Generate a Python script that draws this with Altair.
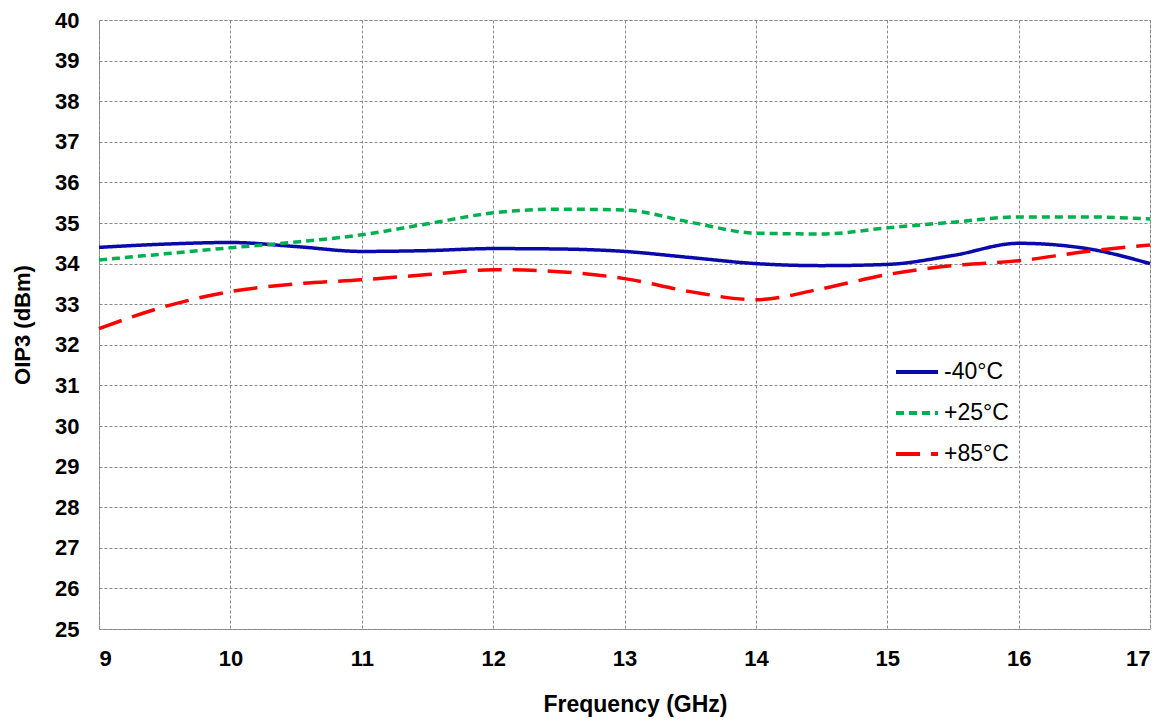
import altair as alt
import pandas as pd

freq = [9, 9.5, 10, 10.5, 11, 11.5, 12, 12.5, 13, 13.5, 14, 14.5, 15, 15.5, 16, 16.5, 17]
m40 = [34.40, 34.48, 34.52, 34.42, 34.30, 34.32, 34.37, 34.36, 34.30, 34.15, 34.00, 33.95, 33.98, 34.20, 34.50, 34.38, 34.00]
p25 = [34.09, 34.24, 34.39, 34.53, 34.71, 34.98, 35.25, 35.34, 35.32, 35.02, 34.75, 34.73, 34.88, 35.02, 35.15, 35.15, 35.10]
p85 = [32.40, 32.94, 33.31, 33.50, 33.60, 33.73, 33.85, 33.80, 33.63, 33.31, 33.11, 33.38, 33.73, 33.95, 34.07, 34.29, 34.46]
series = ["-40°C", "+25°C", "+85°C"]
colors = ["#0A0AAA", "#00B050", "#FF0000"]
dashes = [[1, 0], [8, 5], [24, 11]]
xticks = [9, 10, 11, 12, 13, 14, 15, 16, 17]
yticks = [25, 26, 27, 28, 29, 30, 31, 32, 33, 34, 35, 36, 37, 38, 39, 40]

rows = []
for name, vals in zip(series, [m40, p25, p85]):
    for f, v in zip(freq, vals):
        rows.append({"Frequency": f, "OIP3": v, "Series": name})
df = pd.DataFrame(rows)

FONT = "Liberation Sans"

chart = alt.Chart(df).mark_line(strokeWidth=3.5, interpolate="monotone").encode(
    x=alt.X("Frequency:Q", title="Frequency (GHz)",
            scale=alt.Scale(domain=[9, 17], nice=False, zero=False),
            axis=alt.Axis(values=xticks, format="d", titleX=536, titleFontSize=23)),
    y=alt.Y("OIP3:Q", title="OIP3 (dBm)",
            scale=alt.Scale(domain=[25, 40], nice=False, zero=False),
            axis=alt.Axis(values=yticks, format="d")),
    color=alt.Color("Series:N", sort=series,
                    scale=alt.Scale(domain=series, range=colors),
                    legend=alt.Legend(title=None, orient="none", legendX=795, legendY=329,
                                      symbolType="stroke", symbolSize=1764,
                                      symbolStrokeWidth=4, labelFontSize=23,
                                      labelFont=FONT, rowPadding=6, labelOffset=4)),
    strokeDash=alt.StrokeDash("Series:N", sort=series,
                              scale=alt.Scale(domain=series, range=dashes),
                              legend=None),
).properties(
    width=1051, height=609,
    padding={"left": 91, "top": 12, "right": 14, "bottom": 90},
    autosize=alt.AutoSizeParams(type="none"),
).configure_view(
    stroke="#888888", strokeDash=[3, 2], strokeWidth=1
).configure_axis(
    grid=True, gridColor="#888888", gridDash=[3, 2], gridWidth=1,
    domain=False, ticks=False, labelOverlap=False,
    labelFont=FONT, labelFontSize=22, labelFontWeight="bold", labelColor="#000000",
    titleFont=FONT, titleFontSize=22, titleFontWeight="bold", titleColor="#000000",
).configure_axisY(
    labelPadding=20, titlePadding=20
).configure_axisX(
    labelPadding=19, titlePadding=24
)

chart.save("out.html", embed_options={"renderer": "svg", "actions": False})
